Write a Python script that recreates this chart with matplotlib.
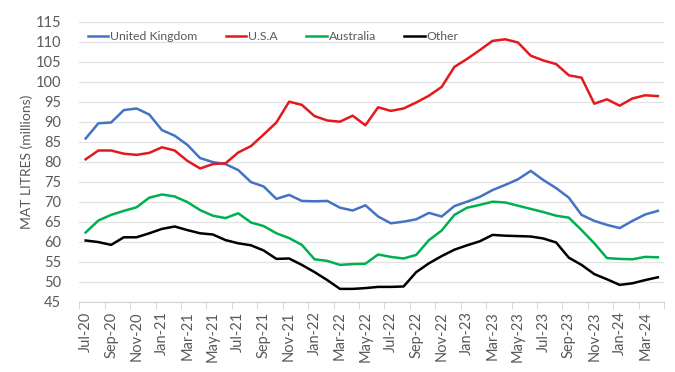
import matplotlib.pyplot as plt

plt.rcParams['font.family'] = ['Lato', 'DejaVu Sans']

months = ['Jul-20', 'Aug-20', 'Sep-20', 'Oct-20', 'Nov-20', 'Dec-20',
          'Jan-21', 'Feb-21', 'Mar-21', 'Apr-21', 'May-21', 'Jun-21',
          'Jul-21', 'Aug-21', 'Sep-21', 'Oct-21', 'Nov-21', 'Dec-21',
          'Jan-22', 'Feb-22', 'Mar-22', 'Apr-22', 'May-22', 'Jun-22',
          'Jul-22', 'Aug-22', 'Sep-22', 'Oct-22', 'Nov-22', 'Dec-22',
          'Jan-23', 'Feb-23', 'Mar-23', 'Apr-23', 'May-23', 'Jun-23',
          'Jul-23', 'Aug-23', 'Sep-23', 'Oct-23', 'Nov-23', 'Dec-23',
          'Jan-24', 'Feb-24', 'Mar-24', 'Apr-24']

uk = [85.8, 89.6, 89.8, 92.9, 93.3, 91.8, 87.9, 86.5, 84.2, 80.9, 79.9, 79.4,
      77.9, 74.9, 73.8, 70.7, 71.7, 70.2, 70.1, 70.2, 68.5, 67.8, 69.1, 66.3,
      64.6, 65.0, 65.6, 67.2, 66.3, 68.9, 70.0, 71.2, 72.9, 74.2, 75.6, 77.7,
      75.4, 73.4, 71.0, 66.7, 65.2, 64.2, 63.4, 65.2, 66.8, 67.7]
usa = [80.6, 82.8, 82.8, 82.0, 81.7, 82.2, 83.6, 82.8, 80.2, 78.3, 79.4, 79.6,
       82.3, 83.9, 86.8, 89.8, 95.0, 94.2, 91.4, 90.3, 90.0, 91.5, 89.1, 93.6,
       92.7, 93.3, 94.8, 96.5, 98.7, 103.7, 105.7, 107.9, 110.2, 110.6, 109.8, 106.5,
       105.3, 104.4, 101.6, 101.0, 94.5, 95.6, 94.0, 95.8, 96.6, 96.4]
australia = [62.3, 65.3, 66.7, 67.7, 68.6, 71.0, 71.8, 71.3, 69.9, 67.9, 66.5, 65.9,
             67.1, 64.8, 63.9, 62.1, 60.9, 59.2, 55.6, 55.2, 54.2, 54.4, 54.5, 56.8,
             56.2, 55.8, 56.7, 60.4, 62.8, 66.7, 68.5, 69.2, 70.0, 69.8, 69.0, 68.2,
             67.4, 66.5, 66.0, 62.9, 59.6, 55.9, 55.7, 55.6, 56.2, 56.1]
other = [60.3, 59.9, 59.2, 61.1, 61.1, 62.1, 63.2, 63.8, 62.9, 62.1, 61.8, 60.4,
         59.6, 59.1, 57.8, 55.7, 55.8, 54.2, 52.4, 50.4, 48.2, 48.2, 48.4, 48.7,
         48.7, 48.8, 52.4, 54.6, 56.4, 58.0, 59.1, 60.1, 61.7, 61.5, 61.4, 61.3,
         60.8, 59.8, 56.0, 54.2, 51.9, 50.6, 49.2, 49.6, 50.4, 51.1]

series = [('United Kingdom', uk, '#4472C4'),
          ('U.S.A', usa, '#E3191C'),
          ('Australia', australia, '#00B050'),
          ('Other', other, '#000000')]

grey = '#595959'

fig = plt.figure(figsize=(6.75, 3.72), dpi=100)
ax = fig.add_axes([0.1175, 0.189, 0.8665, 0.7527])

x = list(range(len(months)))
for name, vals, col in series:
    ax.plot(x, vals, color=col, lw=1.8, label=name, solid_joinstyle='round')

ax.set_ylim(45, 115)
ax.set_yticks(range(45, 116, 5))
ax.set_xlim(-0.5, len(months) - 0.5)
ax.set_xticks(x[::2])
ax.set_xticklabels(months[::2], rotation=90)
ax.set_xticks([i - 0.5 for i in range(0, len(months) + 1, 2)], minor=True)
ax.tick_params(axis='x', which='major', length=0, pad=7, labelsize=10.5, labelcolor=grey)
ax.tick_params(axis='x', which='minor', length=5, color='#d0d0d0')
ax.tick_params(axis='y', length=0, labelsize=10.5, labelcolor=grey, pad=13)

ax.grid(axis='y', color='#e3e3e3', lw=0.9)
ax.set_axisbelow(True)
for s in ['top', 'right', 'left']:
    ax.spines[s].set_visible(False)
ax.spines['bottom'].set_color('#d0d0d0')

ax.set_ylabel('MAT LITRES (millions)', fontsize=10, color=grey, labelpad=2)

ax.legend(loc='upper left', ncol=4, frameon=False, fontsize=8.8,
          handlelength=1.7, handletextpad=0.15, columnspacing=2.3,
          bbox_to_anchor=(0.006, 0.984), borderaxespad=0, labelcolor=grey)

fig.savefig('out.png', dpi=100)
